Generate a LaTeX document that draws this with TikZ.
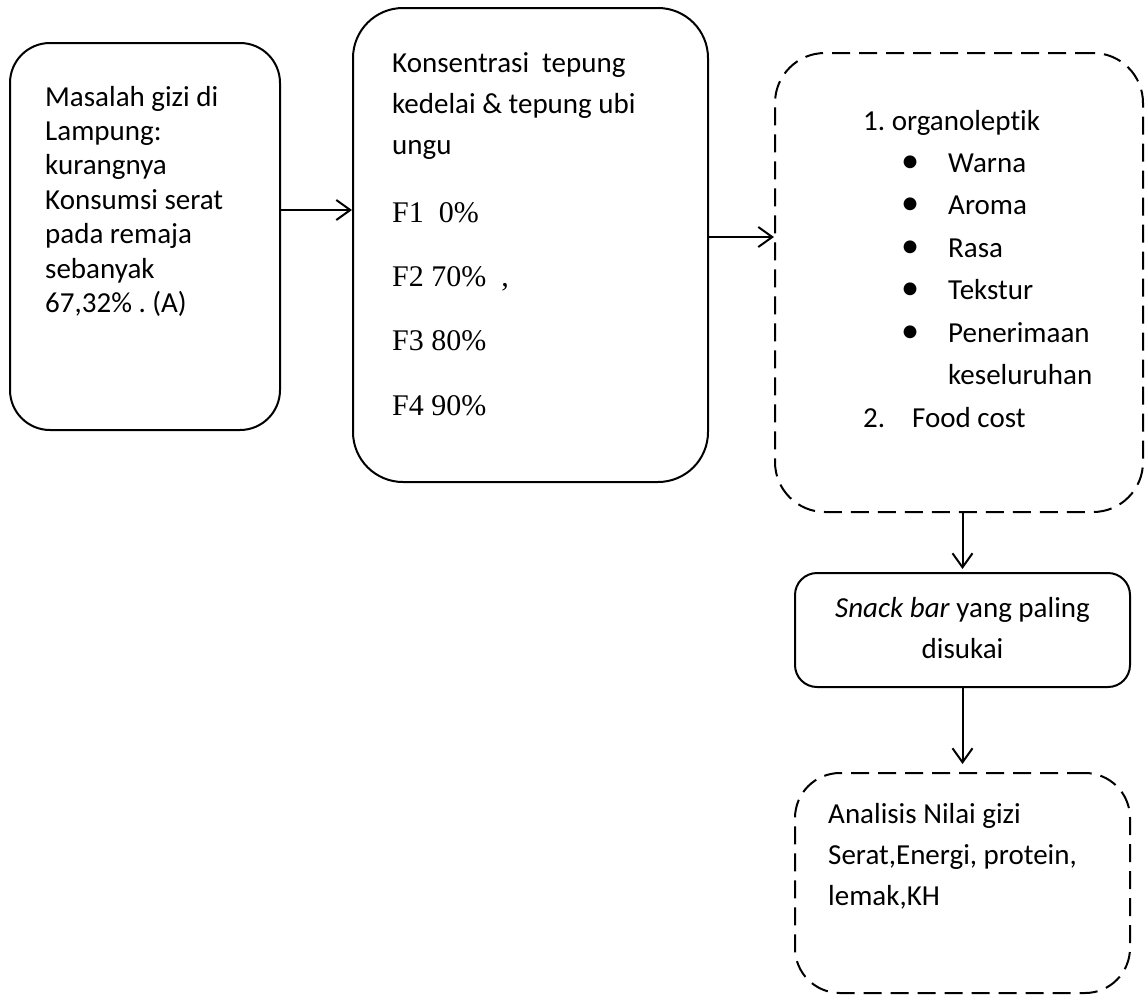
\documentclass[tikz,border=0pt]{standalone}
\usepackage{fontspec}
\setmainfont{Carlito}[Ligatures=NoCommon]
\newfontfamily\timesfont{Liberation Serif}
\usetikzlibrary{arrows.meta}
\frenchspacing

\begin{document}
\begin{tikzpicture}[x=1pt,y=-1pt,
  box/.style={draw,line width=2pt,inner sep=0pt},
  dbox/.style={box,dash pattern=on 18pt off 9pt},
  txt/.style={anchor=base west,inner sep=0pt,font=\fontsize{29}{35}\selectfont},
  ftxt/.style={anchor=base west,inner sep=0pt,font=\timesfont\fontsize{30}{36}\selectfont},
  arr/.style={line width=2pt,-{Straight Barb[length=14pt,width=20pt]}}]
\useasboundingbox (0,0) rectangle (1146,994);
% kotak-kotak
\node[box,rounded corners=40pt,minimum width=270pt,minimum height=387pt] (masalah) at (145,236.5) {};
\node[box,rounded corners=50pt,minimum width=355pt,minimum height=474pt] (konsentrasi) at (530.5,245) {};
\node[dbox,rounded corners=50pt,minimum width=368pt,minimum height=459pt] (uji) at (959,282.5) {};
\node[box,rounded corners=22pt,minimum width=335pt,minimum height=114pt] (snack) at (962.5,630) {};
\node[dbox,rounded corners=45pt,minimum width=335pt,minimum height=220pt] (analisis) at (962.5,883) {};
% teks
\foreach \t [count=\i from 0] in {Masalah gizi di,Lampung:,kurangnya,Konsumsi serat,pada remaja,sebanyak,{67,32\% . (A)}}
  \node[txt] (masalah\i) at (45,{106+34.4*\i}) {\t};
\foreach \t [count=\i from 0] in {Konsentrasi~~tepung,kedelai \& tepung ubi,ungu}
  \node[txt] (konsentrasi\i) at (392,{72+41*\i}) {\t};
\foreach \t [count=\i from 0] in {F1~~0\%,{F2 70\%~~,},F3 80\%,F4 90\%}
  \node[ftxt] (formula\i) at (392,{222+64.4*\i}) {\t};
\node[txt] (org) at (863,130) {1. organoleptik};
\foreach \t [count=\i] in {Warna,Aroma,Rasa,Tekstur,Penerimaan}{
  \node[txt] (bul\i) at (901,{130+42.4*\i}) {\scalebox{1.25}{\textbullet}};
  \node[txt] (item\i) at (948,{130+42.4*\i}) {\t};}
\node[txt] (item6) at (948,384) {keseluruhan};
\node[txt] (nomor2) at (863,427) {2.};
\node[txt] (cost) at (912,427) {Food cost};
\node[txt,anchor=base] (snacktxt) at (962.5,617) {\textit{Snack bar} yang paling};
\node[txt,anchor=base] (snacktxt2) at (962.5,658) {disukai};
\foreach \t [count=\i from 0] in {Analisis Nilai gizi,{Serat,Energi, protein,},{lemak,KH}}
  \node[txt] (analisis\i) at (828,{823+41*\i}) {\t};
% panah
\coordinate (ya) at (0,210);
\coordinate (yb) at (0,237);
\draw[arr] (masalah.east |- ya) -- (konsentrasi.west |- ya);
\draw[arr] (konsentrasi.east |- yb) -- (uji.west |- yb);
\draw[arr,shorten >=3pt] (uji.south -| snack.north) -- (snack.north);
\draw[arr,shorten >=8pt] (snack.south) -- (analisis.north);
\end{tikzpicture}
\end{document}
